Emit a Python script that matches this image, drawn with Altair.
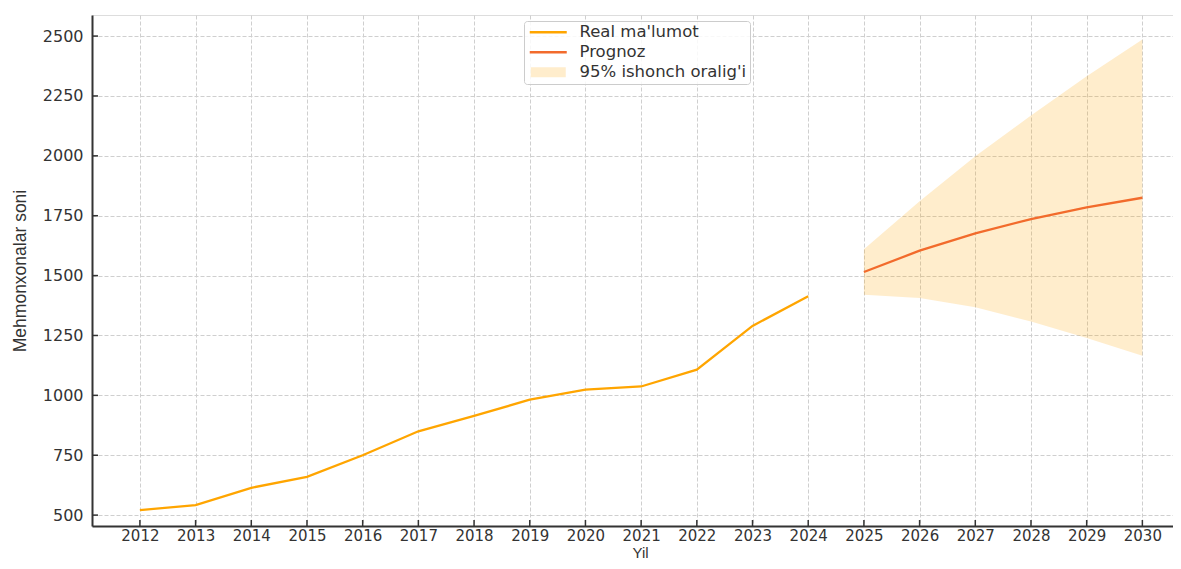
import altair as alt
import pandas as pd

# ---- data ----
real_years = list(range(2012, 2025))
real_values = [521, 542, 614, 660, 750, 850, 914, 982, 1024, 1037, 1107, 1290, 1414]

fc_years = [2025, 2026, 2027, 2028, 2029, 2030]
fc_values = [1515, 1604, 1676, 1736, 1785, 1825]
ci_lower = [1420, 1406, 1368, 1308, 1239, 1165]
ci_upper = [1610, 1810, 1998, 2168, 2332, 2486]

legend_labels = ["Real ma'lumot", "Prognoz", "95% ishonch oralig'i"]
legend_colors = ["#FFA500", "#F26B2C", "#FFEDCC"]

x_ticks = list(range(2012, 2031))
y_ticks = [500, 750, 1000, 1250, 1500, 1750, 2000, 2250, 2500]

x_title = "Yil"
y_title = "Mehmonxonalar soni"

# ---- tables ----
real_df = pd.DataFrame({"year": real_years, "value": real_values})
fc_df = pd.DataFrame({"year": fc_years, "value": fc_values,
                      "lower": ci_lower, "upper": ci_upper})
leg_df = pd.DataFrame({"series": legend_labels,
                       "year": [real_years[0]] * 3, "value": [real_values[0]] * 3})
xt_df = pd.DataFrame({"year": x_ticks})
yt_df = pd.DataFrame({"value": y_ticks})

W, H = 1081, 511
x_scale = alt.Scale(domain=[2011.14, 2030.55], nice=False, zero=False)
y_scale = alt.Scale(domain=[454.5, 2588], nice=False, zero=False)

grid_color = "#cfcfcf"
axis_color = "#333333"
text_color = "#333333"

x_axis = alt.Axis(values=x_ticks, format="d", title=x_title, grid=True,
                  gridDash=[4, 2], gridColor=grid_color, gridWidth=1,
                  tickSize=0, labelPadding=2, labelFont="DejaVu Sans",
                  labelFontSize=15, labelColor=text_color, labelFlush=False,
                  domainColor=axis_color, domainWidth=2,
                  titleFont="Liberation Sans", titleFontSize=15,
                  titleFontWeight="normal", titleColor=text_color,
                  titlePadding=2, titleX=548)
y_axis = alt.Axis(values=y_ticks, format="d", title=y_title, grid=True,
                  gridDash=[4, 2], gridColor=grid_color, gridWidth=1,
                  tickSize=0, labelPadding=9, labelFont="DejaVu Sans",
                  labelFontSize=16, labelColor=text_color,
                  domainColor=axis_color, domainWidth=2,
                  titleFont="Liberation Sans", titleFontSize=17.5,
                  titleFontWeight="normal", titleColor=text_color,
                  titlePadding=13)


def X(field):
    return alt.X(field, scale=x_scale, axis=x_axis)


def Y(field):
    return alt.Y(field, scale=y_scale, axis=y_axis)


area = alt.Chart(fc_df).mark_area(color="#FFA500", opacity=0.2).encode(
    x=X("year:Q"), y=Y("lower:Q"), y2="upper:Q",
)

real_line = alt.Chart(real_df).mark_line(color="#FFA500", strokeWidth=2.3).encode(
    x=X("year:Q"), y=Y("value:Q"),
)

fc_line = alt.Chart(fc_df).mark_line(color="#F26B2C", strokeWidth=2.3).encode(
    x=X("year:Q"), y=Y("value:Q"),
)

line_path = "M-3.7,-0.24L3.7,-0.24L3.7,0.24L-3.7,0.24Z"
rect_path = "M-3.5,-1L3.5,-1L3.5,1L-3.5,1Z"

leg = alt.Legend(title=None, orient="none", legendX=432, legendY=6,
                 symbolSize=100, symbolOpacity=1,
                 symbolStrokeWidth=0, symbolOffset=13,
                 labelOffset=23, labelLimit=400, labelFont="DejaVu Sans",
                 labelFontSize=16.5, labelColor=text_color,
                 rowPadding=3, padding=3,
                 fillColor="rgba(255,255,255,0.85)",
                 strokeColor="#cccccc", cornerRadius=3)

legend_layer = alt.Chart(leg_df).mark_point(filled=True, opacity=0, size=100).encode(
    x=X("year:Q"), y=Y("value:Q"),
    color=alt.Color("series:N",
                    scale=alt.Scale(domain=legend_labels, range=legend_colors),
                    legend=leg),
    shape=alt.Shape("series:N",
                    scale=alt.Scale(domain=legend_labels,
                                    range=[line_path, line_path, rect_path]),
                    legend=leg),
)

y_tick_marks = alt.Chart(yt_df).mark_rule(color=axis_color, strokeWidth=1.5).encode(
    y=Y("value:Q"),
    x=alt.value(0), x2=alt.value(6),
)
x_tick_marks = alt.Chart(xt_df).mark_rule(color=axis_color, strokeWidth=1.5).encode(
    x=X("year:Q"),
    y=alt.value(H), y2=alt.value(H - 6),
)

chart = alt.layer(area, real_line, fc_line, legend_layer, y_tick_marks, x_tick_marks).properties(
    width=W, height=H,
    autosize=alt.AutoSizeParams(type="none"),
    padding={"left": 84, "top": 7, "right": 0, "bottom": 35},
).configure_view(strokeWidth=0).configure(background="white")

chart.save("out.html", embed_options={"renderer": "svg", "actions": False})
